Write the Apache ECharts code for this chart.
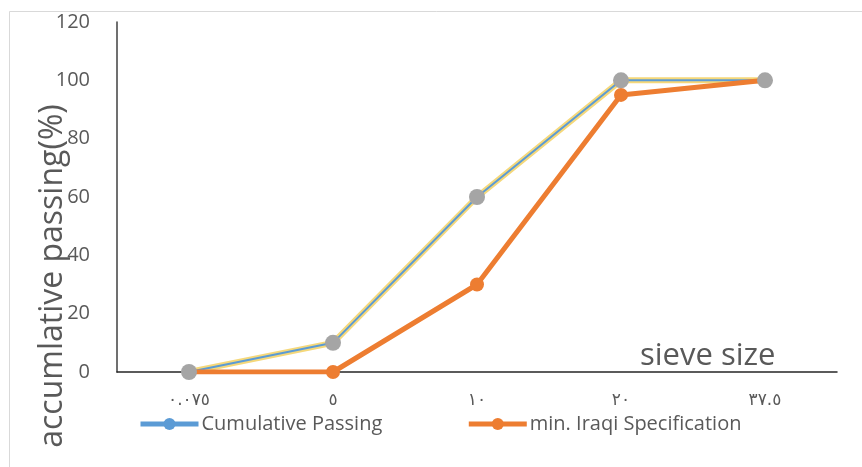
<!DOCTYPE html>
<html>
<head>
<meta charset="utf-8">
<script src="https://cdn.jsdelivr.net/npm/echarts@6/dist/echarts.min.js"></script>
<style>
html,body{margin:0;padding:0;background:#fff;}
#chart{width:862px;height:467px;}
</style>
</head>
<body>
<div id="chart"></div>
<script>
var categories = ['٠.٠٧٥', '٥', '١٠', '٢٠', '٣٧.٥'];
var cumulativePassing = [0, 10, 60, 100, 100];
var minSpec = [0, 0, 30, 95, 100];
var maxSpec = [0, 10, 60, 100, 100];
var yTicks = [0, 20, 40, 60, 80, 100, 120];

var textColor = '#595959';
var font = 'Open Sans';

var chart = echarts.init(document.getElementById('chart'), null, {renderer: 'canvas'});
chart.setOption({
  animation: false,
  backgroundColor: '#fff',
  grid: {left: 117, right: 25, top: 22, bottom: 95, containLabel: false},
  xAxis: {
    type: 'category',
    data: categories,
    boundaryGap: true,
    axisLine: {show: true, lineStyle: {color: '#262626', width: 1.5}},
    axisTick: {show: false},
    axisLabel: {color: textColor, fontSize: 17, fontFamily: 'DejaVu Sans', margin: 20},
    splitLine: {show: false}
  },
  yAxis: {
    type: 'value',
    min: yTicks[0],
    max: yTicks[yTicks.length - 1],
    interval: 20,
    axisLine: {show: true, lineStyle: {color: '#404040', width: 1.5}},
    axisTick: {show: false},
    axisLabel: {color: textColor, fontSize: 20, fontFamily: font, margin: 27},
    splitLine: {show: false}
  },
  legend: {
    left: 133,
    top: 409,
    itemWidth: 58,
    itemHeight: 15,
    itemGap: 84,
    textStyle: {color: textColor, fontSize: 20, fontFamily: font, padding: [0, 0, 0, -2]},
    data: [
      {name: 'Cumulative Passing', lineStyle: {width: 5, color: '#5B9BD5'}, itemStyle: {color: '#5B9BD5'}},
      {name: 'min. Iraqi Specification', lineStyle: {width: 5, color: '#ED7D31'}, itemStyle: {color: '#ED7D31'}}
    ]
  },
  series: [
    {
      name: 'max. Iraqi Specification',
      type: 'line',
      data: maxSpec,
      z: 2,
      symbol: 'none',
      lineStyle: {color: '#F5D87A', width: 6},
      itemStyle: {color: '#F5D87A'}
    },
    {
      name: 'Cumulative Passing',
      type: 'line',
      data: cumulativePassing,
      z: 3,
      symbol: 'circle',
      symbolSize: 14,
      lineStyle: {color: '#5B9BD5', width: 2},
      itemStyle: {color: '#5B9BD5'}
    },
    {
      name: 'min. Iraqi Specification',
      type: 'line',
      data: minSpec,
      z: 4,
      symbol: 'circle',
      symbolSize: 14,
      lineStyle: {color: '#ED7D31', width: 5},
      itemStyle: {color: '#ED7D31'}
    },
    {
      name: 'max. Iraqi Specification points',
      type: 'line',
      data: maxSpec,
      z: 5,
      symbol: 'circle',
      symbolSize: 16,
      lineStyle: {width: 0, opacity: 0},
      itemStyle: {color: '#A5A5A5'}
    }
  ],
  graphic: [
    {
      type: 'rect',
      left: 7, top: 9,
      shape: {width: 1000, height: 456},
      style: {fill: 'none', stroke: '#D9D9D9', lineWidth: 1},
      silent: true,
      z: -10
    },
    {
      type: 'text',
      x: 53, y: 276,
      rotation: Math.PI / 2,
      style: {
        text: 'accumlative passing(%)',
        fill: textColor,
        font: '32px "Open Sans"',
        textAlign: 'center',
        textVerticalAlign: 'middle'
      },
      z: 10
    },
    {
      type: 'text',
      x: 640, y: 356,
      style: {
        text: 'sieve size',
        fill: textColor,
        font: '31px "Open Sans"',
        textAlign: 'left',
        textVerticalAlign: 'middle'
      },
      z: 10
    }
  ]
});
</script>
</body>
</html>
